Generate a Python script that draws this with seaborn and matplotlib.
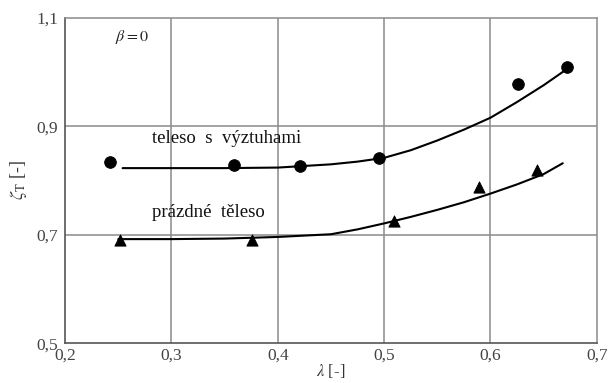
import matplotlib
matplotlib.use("Agg")
import matplotlib.pyplot as plt
import seaborn as sns

# Measured points: body with stiffeners (circles) and empty body (triangles)
lam_stiff = [0.242, 0.359, 0.421, 0.495, 0.626, 0.672]
zeta_stiff = [0.834, 0.828, 0.826, 0.841, 0.979, 1.009]
lam_empty = [0.252, 0.376, 0.509, 0.589, 0.644]
zeta_empty = [0.691, 0.691, 0.726, 0.789, 0.819]

# Trend curves through the measurements
curve_lam_stiff = [0.254, 0.30, 0.35, 0.40, 0.45, 0.475, 0.50, 0.525, 0.55, 0.575,
                   0.60, 0.625, 0.65, 0.672]
curve_zeta_stiff = [0.823, 0.823, 0.823, 0.824, 0.830, 0.835, 0.842, 0.856, 0.874, 0.894,
                    0.916, 0.945, 0.976, 1.006]
curve_lam_empty = [0.25, 0.30, 0.35, 0.40, 0.45, 0.475, 0.50, 0.525, 0.55, 0.575,
                   0.60, 0.625, 0.65, 0.668]
curve_zeta_empty = [0.692, 0.692, 0.693, 0.696, 0.701, 0.710, 0.721, 0.733, 0.746, 0.760,
                    0.776, 0.793, 0.812, 0.832]

x_ticks = [0.2, 0.3, 0.4, 0.5, 0.6, 0.7]
y_ticks = [0.5, 0.7, 0.9, 1.1]

sns.set_theme(style="white")
plt.rcParams["font.family"] = ["Liberation Serif", "DejaVu Serif"]
plt.rcParams["mathtext.fontset"] = "stix"

fig = plt.figure(figsize=(6.09, 3.83), dpi=100)
ax = fig.add_axes([0.107, 0.104, 0.873, 0.849])

grid_col = "#8a8a8a"
for v in x_ticks[1:-1]:
    ax.axvline(v, color=grid_col, lw=1.1, zorder=0)
for v in y_ticks[1:-1]:
    ax.axhline(v, color=grid_col, lw=1.1, zorder=0)

sns.lineplot(x=curve_lam_stiff, y=curve_zeta_stiff, ax=ax, color="black",
             lw=1.5, sort=False, estimator=None)
sns.lineplot(x=curve_lam_empty, y=curve_zeta_empty, ax=ax, color="black",
             lw=1.5, sort=False, estimator=None)
sns.scatterplot(x=lam_stiff, y=zeta_stiff, ax=ax, marker="o", s=70,
                color="black", edgecolor="black", zorder=5)
sns.scatterplot(x=lam_empty, y=zeta_empty, ax=ax, marker="^", s=65,
                color="black", edgecolor="black", zorder=5)

ax.set_xlim(0.2, 0.7)
ax.set_ylim(0.5, 1.1)
ax.set_xticks(x_ticks)
ax.set_yticks(y_ticks)
ax.set_xticklabels([f"{v:.1f}".replace(".", ",") for v in x_ticks])
ax.set_yticklabels([f"{v:.1f}".replace(".", ",") for v in y_ticks])
ax.tick_params(axis="both", labelsize=12.5, labelcolor="#444444", length=0)
ax.tick_params(axis="x", pad=3)
ax.tick_params(axis="y", pad=5)

for side in ["top", "right"]:
    ax.spines[side].set_color(grid_col)
    ax.spines[side].set_linewidth(1.1)
for side in ["left", "bottom"]:
    ax.spines[side].set_color("#555555")
    ax.spines[side].set_linewidth(1.2)

ax.set_xlabel(r"$\lambda$ [-]", fontsize=12, color="#333333", labelpad=-1)
ax.set_ylabel(r"$\zeta_{\mathrm{T}}$ [-]", fontsize=13, color="#333333", labelpad=5)

ax.text(0.247, 1.065, r"$\beta = 0$", fontsize=11.5, color="#222222", va="center")
ax.text(0.282, 0.878, "teleso  s  výztuhami", fontsize=13.5, color="#111111", va="center")
ax.text(0.282, 0.741, "prázdné  těleso", fontsize=13.5, color="#111111", va="center")

fig.savefig("out.png", dpi=100)
